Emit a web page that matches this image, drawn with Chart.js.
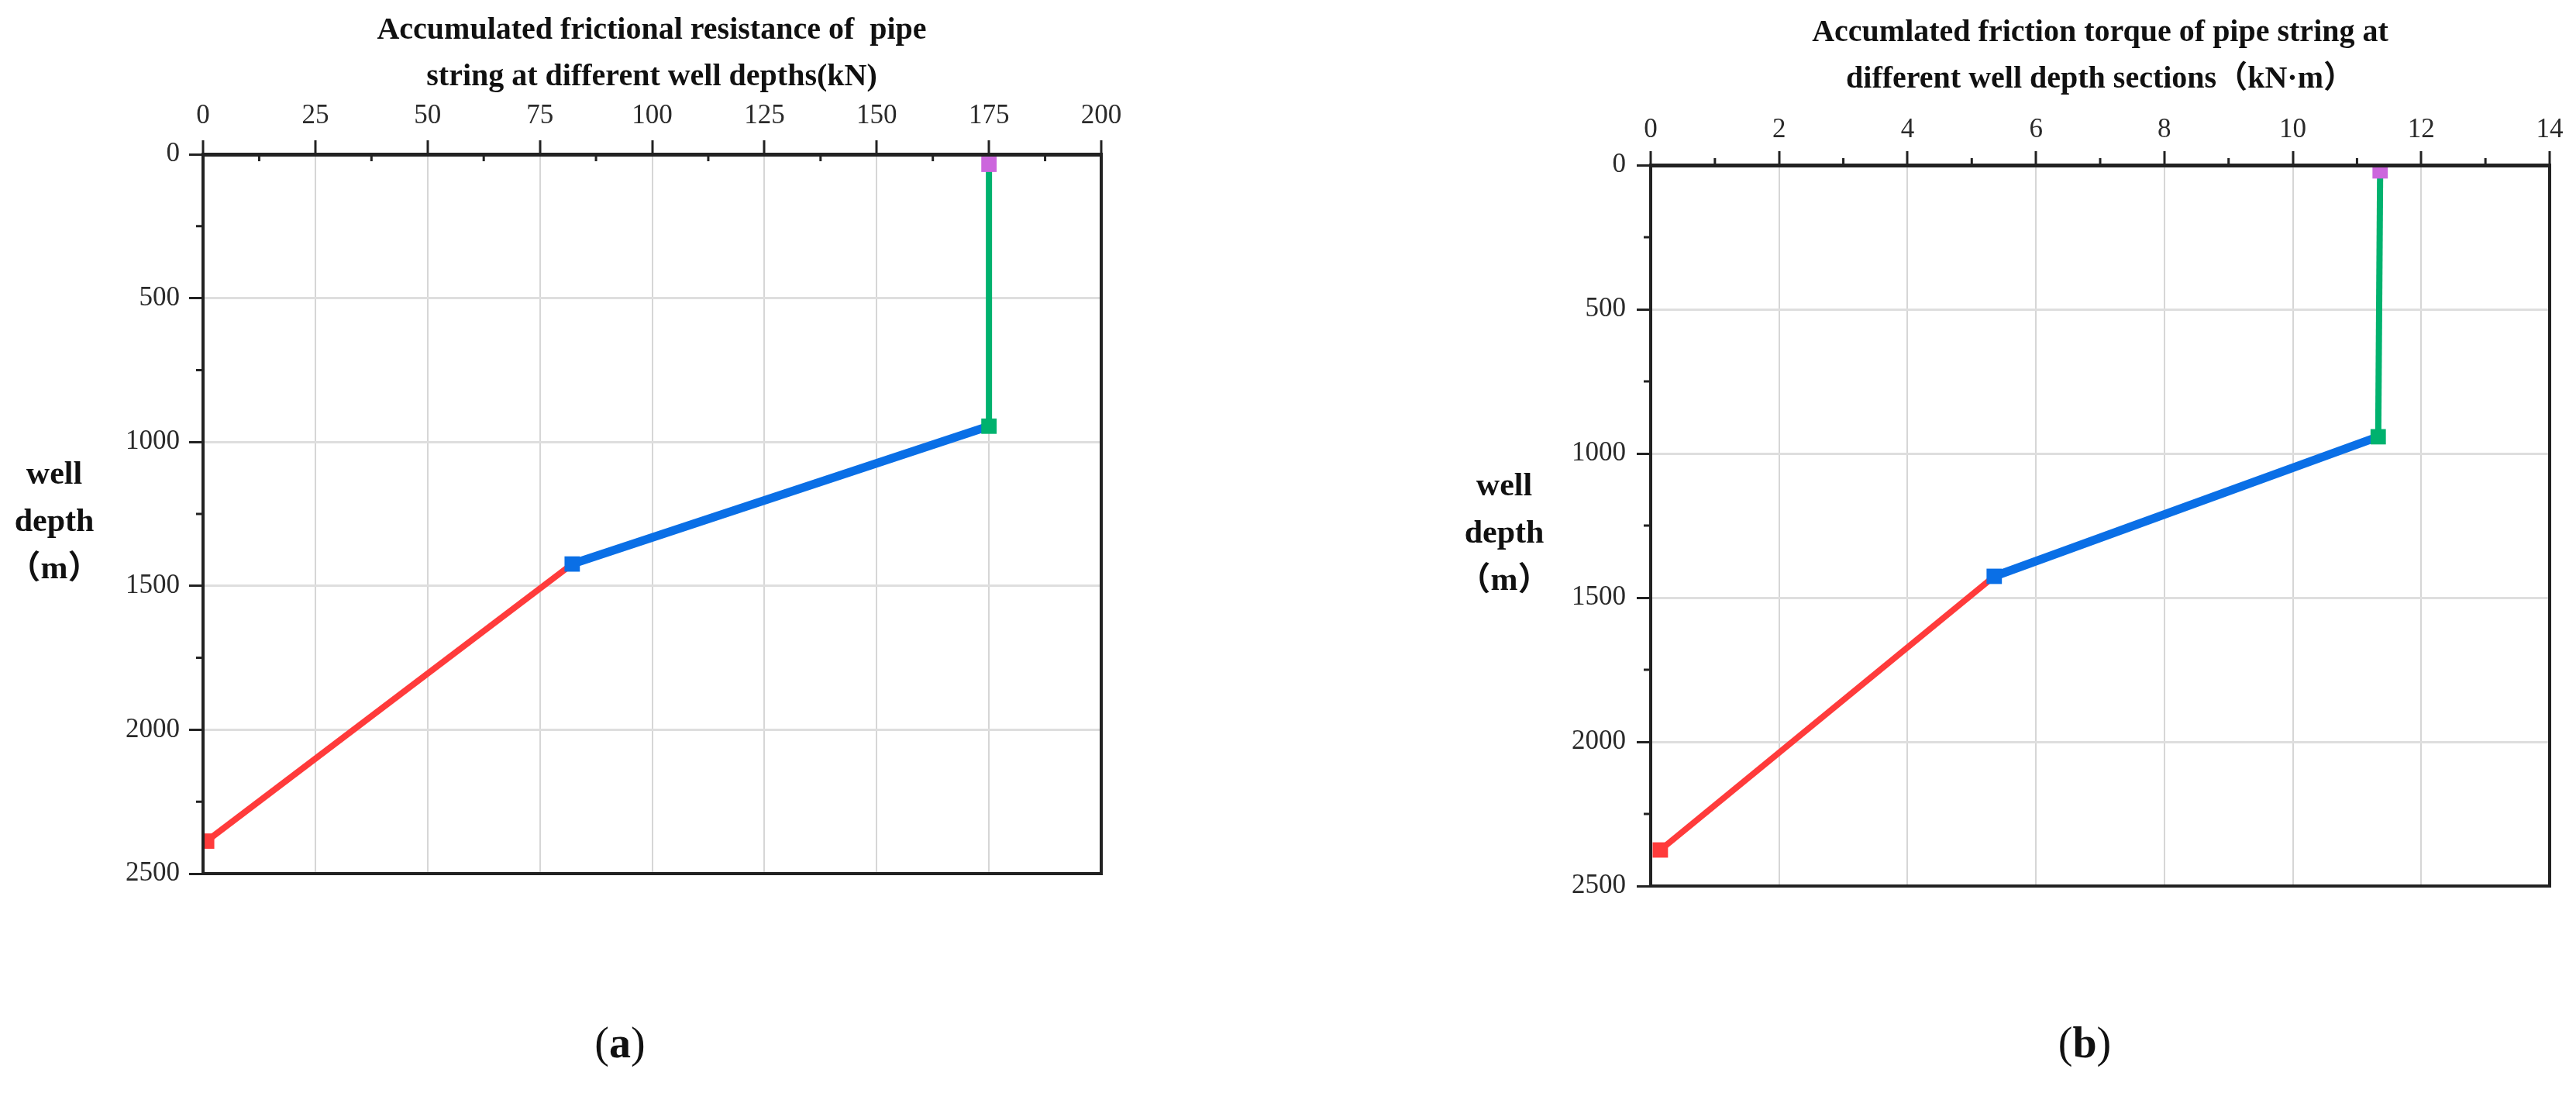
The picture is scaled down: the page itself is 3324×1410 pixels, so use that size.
<!DOCTYPE html>
<html>
<head>
<meta charset="utf-8">
<script src="https://cdn.jsdelivr.net/npm/chart.js@4/dist/chart.umd.min.js"></script>
<style>
	html,body{margin:0;padding:0;background:#fff;}
	#page{position:relative;width:3324px;height:1410px;overflow:hidden;font-family:'Liberation Serif','Noto Sans CJK SC',serif;color:#111;}
	#page canvas{position:absolute;top:0;}
	.ylab{position:absolute;width:200px;margin-left:-100px;text-align:center;font-weight:bold;font-size:42px;line-height:61px;}
	.cap{position:absolute;width:200px;margin-left:-100px;text-align:center;font-size:56px;line-height:64px;}
</style>
</head>
<body>
<div id="page">
	<canvas id="friction" width="1560" height="1160" style="left:0"></canvas>
	<canvas id="torque" width="1830" height="1178" style="left:1600px"></canvas>
	<div class="ylab" style="left:70px;top:580px">well<br>depth<br>（m）</div>
	<div class="ylab" style="left:1941px;top:595px">well<br>depth<br>（m）</div>
	<div class="cap" style="left:800px;top:1313px">(<b>a</b>)</div>
	<div class="cap" style="left:2690px;top:1313px">(<b>b</b>)</div>
</div>
<script>
(function(){
	'use strict';

	// segment end points, top to bottom: purple, green, blue, red
	var depthA = [35, 945, 1424, 2387];
	var frictionA = [175, 175, 82.2, 0.8];

	var depthB = [20, 942, 1426, 2375];
	var torqueB = [11.36, 11.33, 5.35, 0.15];

	var minorA = [12.5, 37.5, 62.5, 87.5, 112.5, 137.5, 162.5, 187.5];
	var minorB = [1, 3, 5, 7, 9, 11, 13];
	var minorDepth = [250, 750, 1250, 1750, 2250];

	var titleA = ['Accumulated frictional resistance of  pipe', 'string at different well depths(kN)'];
	var titleB = ['Accumlated friction torque of pipe string at', 'different well depth sections（kN·m）'];

	var colors = ['#cc66dd', '#00b26e', '#0a6fe6', '#ff3b3b'];
	var widths = [0, 8, 11, 8];

	Chart.defaults.font.family = "'Liberation Serif', 'Noto Sans CJK SC', serif";
	Chart.defaults.color = '#222';

	// minor ticks and the bottom frame line
	var frame = {
		id: 'frame',
		afterDraw: function(chart, args, opts){
			var ctx = chart.ctx;
			var area = chart.chartArea;
			var x = chart.scales.x;
			var y = chart.scales.y;
			ctx.save();
			ctx.strokeStyle = '#222';
			ctx.lineWidth = 3;
			ctx.beginPath();
			opts.xMinor.forEach(function(v){
				var px = x.getPixelForValue(v);
				ctx.moveTo(px, area.top);
				ctx.lineTo(px, area.top + opts.xDir * 9);
			});
			opts.yMinor.forEach(function(v){
				var py = y.getPixelForValue(v);
				ctx.moveTo(area.left, py);
				ctx.lineTo(area.left - 9, py);
			});
			ctx.stroke();
			ctx.lineWidth = 4;
			ctx.beginPath();
			ctx.moveTo(area.right + 2, area.bottom);
			ctx.lineTo(area.left, area.bottom);
			ctx.stroke();
			ctx.restore();
		}
	};

	function plain(v){
		return String(v);
	}

	function segments(xs, ys){
		var sets = [{
			data: [{x: xs[0], y: ys[0]}],
			showLine: false,
			pointStyle: 'rect',
			pointRadius: 14,
			backgroundColor: colors[0],
			borderColor: colors[0],
			borderWidth: 0,
			clip: 0
		}];
		for (var i = 1; i < xs.length; i++) {
			sets.push({
				data: [{x: xs[i-1], y: ys[i-1]}, {x: xs[i], y: ys[i]}],
				showLine: true,
				borderColor: colors[i],
				backgroundColor: colors[i],
				borderWidth: widths[i],
				pointStyle: 'rect',
				pointRadius: [0, 14],
				pointBorderWidth: 0,
				clip: 0
			});
		}
		return sets;
	}

	function scales(xMax, xStep, xHeight, xPad, yPad, rightWidth){
		return {
			x: {
				type: 'linear',
				position: 'top',
				min: 0,
				max: xMax,
				ticks: {stepSize: xStep, padding: xPad, font: {size: 35}, color: '#2a2a2a', callback: plain},
				grid: {color: '#d6d6d6', lineWidth: 2, tickLength: 18, tickWidth: 3, tickColor: '#222'},
				border: {color: '#222', width: 5, z: 1},
				afterFit: function(s){ s.height = xHeight; }
			},
			y: {
				type: 'linear',
				reverse: true,
				min: 0,
				max: 2500,
				ticks: {stepSize: 500, padding: yPad, font: {size: 35}, color: '#2a2a2a', callback: plain},
				grid: {color: '#dedede', lineWidth: 3, tickLength: 18, tickWidth: 3, tickColor: '#222'},
				border: {color: '#222', width: 4, z: 1},
				afterFit: function(s){ s.width = 130; }
			},
			// right frame line, also keeps the title centred over the plot
			right: {
				type: 'linear',
				position: 'right',
				ticks: {display: false},
				grid: {drawOnChartArea: false, drawTicks: false},
				border: {color: '#222', width: 4, z: 1},
				afterFit: function(s){ s.width = rightWidth; }
			}
		};
	}

	function options(title, titleTop, sc, pad, xMinor, xDir){
		return {
			responsive: false,
			animation: false,
			layout: {padding: pad},
			scales: sc,
			plugins: {
				legend: {display: false},
				tooltip: {enabled: false},
				title: {
					display: true,
					text: title,
					color: '#111',
					font: {size: 40, weight: 'bold', lineHeight: 1.5},
					padding: {top: titleTop, bottom: 0}
				},
				frame: {xMinor: xMinor, yMinor: minorDepth, xDir: xDir}
			}
		};
	}

	new Chart(document.getElementById('friction'), {
		type: 'scatter',
		data: {datasets: segments(frictionA, depthA)},
		options: options(titleA, 10, scales(200, 25, 69, 10, 12, 129),
			{left: 132, right: 10, top: 0, bottom: 26}, minorA, 1),
		plugins: [frame]
	});

	new Chart(document.getElementById('torque'), {
		type: 'scatter',
		data: {datasets: segments(torqueB, depthB)},
		options: options(titleB, 13, scales(14, 2, 80, 6, 14, 130),
			{left: 400, right: 10, top: 0, bottom: 30}, minorB, -1),
		plugins: [frame]
	});
})();
</script>
</body>
</html>
